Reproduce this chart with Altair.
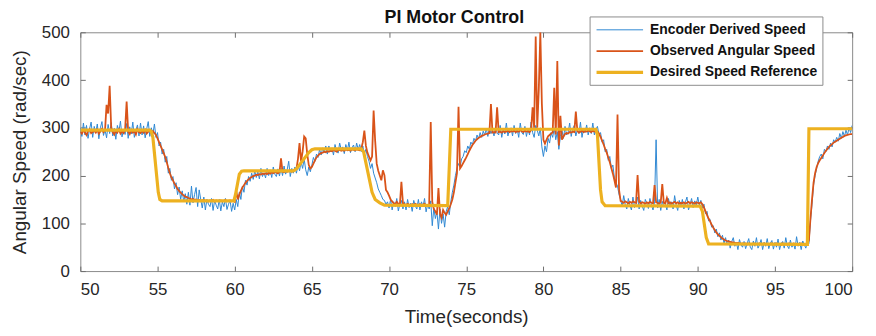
import altair as alt
import pandas as pd

SERIES = ["Encoder Derived Speed", "Observed Angular Speed", "Desired Speed Reference"]
COLORS = ["#2f88d2", "#d95319", "#edb120"]
WIDTHS = [1.0, 1.8, 3.2]

T0 = 50.0
DT = 0.1

# Encoder derived speed (rad/sec), sampled every 0.1 s from t = 50 s
encoder = [
    300, 282, 310, 285, 305, 278, 298, 312, 280, 303,  # 50
    290, 308, 277, 300, 313, 284, 296, 279, 307, 288,  # 51
    311, 283, 299, 276, 305, 292, 314, 281, 297, 286,  # 52
    309, 278, 302, 287, 312, 280, 295, 306, 283, 310,  # 53
    285, 304, 279, 298, 313, 282, 300, 287, 308, 280,  # 54
    290, 262, 270, 245, 255, 228, 240, 205, 215, 190,  # 55
    198, 172, 185, 160, 176, 150, 168, 145, 162, 140,  # 56
    165, 138, 178, 143, 160, 175, 135, 170, 150, 132,  # 57
    155, 128, 150, 140, 135, 152, 127, 148, 138, 130,  # 58
    150, 126, 145, 135, 152, 129, 140, 148, 125, 142,  # 59
    128, 150, 135, 165, 150, 178, 165, 190, 180, 198,  # 60
    188, 205, 192, 210, 196, 208, 193, 215, 198, 206,  # 61
    195, 215, 200, 212, 196, 218, 203, 198, 214, 199,  # 62
    215, 200, 220, 203, 212, 230, 198, 215, 205, 218,  # 63
    205, 222, 210, 228, 215, 235, 212, 200, 218, 208,  # 64
    222, 238, 230, 245, 238, 255, 243, 258, 248, 262,  # 65
    245, 262, 250, 258, 243, 265, 252, 247, 268, 255,  # 66
    260, 246, 265, 252, 270, 248, 258, 264, 250, 268,  # 67
    255, 265, 250, 262, 245, 255, 240, 230, 215, 225,  # 68
    205, 195, 185, 172, 165, 158, 150, 148, 140, 145,  # 69
    132, 150, 128, 145, 135, 152, 126, 140, 148, 130,  # 70
    145, 128, 150, 133, 142, 125, 148, 136, 130, 150,  # 71
    128, 145, 135, 152, 124, 140, 130, 147, 95, 132,  # 72
    110, 125, 88, 130, 100, 120, 92, 125, 135, 118,  # 73
    145, 165, 180, 200, 215, 225, 218, 235, 240, 252,  # 74
    248, 262, 255, 270, 265, 278, 272, 285, 277, 290,  # 75
    280, 293, 285, 298, 282, 300, 288, 295, 283, 302,  # 76
    290, 285, 305, 280, 298, 287, 310, 283, 296, 300,  # 77
    283, 305, 288, 297, 280, 310, 290, 286, 303, 282,  # 78
    298, 285, 312, 290, 280, 305, 295, 283, 300, 260,  # 79
    240, 262, 250, 278, 268, 290, 280, 300, 275, 292,  # 80
    255, 282, 295, 278, 303, 285, 290, 310, 282, 298,  # 81
    305, 283, 296, 288, 312, 280, 298, 290, 306, 285,  # 82
    300, 288, 310, 285, 297, 303, 285, 290, 270, 275,  # 83
    250, 255, 232, 240, 215, 222, 195, 185, 178, 160,  # 84
    150, 135, 158, 140, 130, 152, 138, 128, 155, 133,  # 85
    140, 155, 130, 148, 136, 127, 150, 142, 131, 152,  # 86
    138, 128, 145, 275, 132, 150, 127, 146, 135, 140,  # 87
    128, 152, 136, 145, 130, 158, 138, 127, 148, 135,  # 88
    150, 130, 145, 155, 128, 140, 152, 133, 147, 138,  # 89
    155, 138, 148, 132, 140, 120, 125, 105, 108, 92,  # 90
    95, 80, 88, 72, 80, 65, 75, 58, 70, 55,  # 91
    65, 48, 62, 70, 52, 60, 45, 66, 55, 50,  # 92
    62, 47, 58, 68, 50, 45, 63, 52, 70, 48,  # 93
    55, 66, 45, 60, 52, 68, 47, 58, 64, 46,  # 94
    60, 50, 67, 45, 58, 62, 48, 70, 53, 47,  # 95
    65, 50, 58, 46, 72, 52, 60, 45, 63, 55,  # 96
    48, 62, 58, 105, 140, 180, 200, 215, 230, 240,  # 97
    245, 235, 255, 250, 262, 255, 268, 260, 275, 270,  # 98
    280, 272, 288, 278, 292, 282, 295, 285, 300, 290,  # 99
    305,  # 100
]

# Observed angular speed (rad/sec), sampled every 0.1 s from t = 50 s
observed = [
    292, 288, 295, 290, 285, 293, 297, 289, 291, 294,  # 50
    290, 296, 288, 293, 298, 291, 295, 348, 330, 388,  # 51
    300, 291, 286, 294, 290, 297, 288, 293, 289, 296,  # 52
    355, 292, 287, 295, 290, 293, 286, 297, 291, 289,  # 53
    294, 290, 296, 288, 292, 295, 290, 293, 289, 285,  # 54
    278, 270, 262, 255, 247, 239, 228, 216, 205, 196,  # 55
    190, 183, 178, 172, 168, 164, 161, 158, 156, 155,  # 56
    153, 152, 150, 151, 149, 150, 148, 149, 147, 148,  # 57
    149, 147, 148, 146, 148, 147, 149, 146, 148, 147,  # 58
    147, 148, 146, 147, 149, 146, 147, 148, 146, 147,  # 59
    145, 168, 150, 160, 168, 175, 180, 185, 189, 192,  # 60
    195, 197, 199, 200, 202, 201, 203, 202, 204, 203,  # 61
    205, 203, 206, 204, 207, 205, 208, 206, 205, 207,  # 62
    236, 208, 207, 210, 208, 209, 211, 208, 210, 212,  # 63
    214, 235, 268, 230, 250, 282, 278, 245, 222, 215,  # 64
    218, 225, 232, 238, 242, 245, 247, 248, 250, 249,  # 65
    251, 250, 252, 251, 253, 252, 250, 253, 254, 252,  # 66
    253, 252, 255, 253, 254, 252, 255, 254, 253, 255,  # 67
    254, 253, 256, 270, 294, 262, 248, 240, 232, 240,  # 68
    336, 273, 225, 210, 200, 190, 211, 201, 170, 165,  # 69
    158, 150, 146, 142, 140, 145, 141, 139, 187, 142,  # 70
    140, 138, 141, 139, 137, 140, 138, 141, 139, 138,  # 71
    140, 137, 139, 141, 136, 138, 140, 312, 145, 130,  # 72
    125, 118, 174, 120, 112, 128, 122, 118, 125, 132,  # 73
    140, 150, 165, 185, 205, 344, 215, 220, 226, 232,  # 74
    238, 245, 252, 258, 264, 268, 273, 276, 279, 281,  # 75
    283, 284, 286, 287, 288, 289, 350, 290, 291, 290,  # 76
    343, 291, 292, 290, 293, 291, 292, 294, 291, 293,  # 77
    292, 294, 291, 293, 292, 295, 293, 291, 294, 292,  # 78
    293, 291, 295, 343, 300, 491, 300, 380, 500, 350,  # 79
    275, 267, 275, 282, 285, 288, 290, 384, 286, 440,  # 80
    263, 325, 275, 282, 287, 289, 288, 291, 290, 292,  # 81
    291, 334, 293, 290, 292, 294, 291, 293, 292, 294,  # 82
    293, 291, 294, 292, 293, 292, 288, 281, 273, 265,  # 83
    256, 248, 238, 228, 216, 204, 190, 175, 328, 170,  # 84
    147, 145, 143, 146, 144, 142, 145, 143, 146, 144,  # 85
    143, 201, 145, 142, 144, 143, 141, 144, 142, 145,  # 86
    143, 142, 180, 144, 143, 141, 144, 182, 143, 142,  # 87
    153, 142, 144, 141, 143, 145, 142, 144, 141, 143,  # 88
    142, 144, 141, 143, 145, 142, 144, 143, 141, 144,  # 89
    143, 142, 144, 140, 133, 125, 117, 110, 104, 97,  # 90
    91, 86, 81, 77, 74, 71, 68, 66, 64, 63,  # 91
    62, 61, 60, 60, 59, 58, 59, 58, 57, 58,  # 92
    57, 58, 56, 58, 57, 56, 58, 57, 56, 57,  # 93
    58, 56, 57, 58, 56, 57, 55, 57, 58, 56,  # 94
    57, 58, 56, 57, 55, 58, 56, 57, 56, 58,  # 95
    57, 56, 58, 57, 56, 55, 57, 58, 56, 57,  # 96
    56, 57, 65, 110, 150, 185, 205, 218, 226, 232,  # 97
    237, 242, 247, 252, 256, 260, 263, 266, 269, 271,  # 98
    273, 275, 277, 279, 281, 283, 284, 285, 286, 287,  # 99
    287,  # 100
]

# Desired speed reference: breakpoints (time, rad/sec)
ref_t = [50, 54.5, 54.6, 54.7, 55.05, 55.15, 55.3, 59.95, 60.05, 60.3, 60.45, 60.6,
         63.8, 64.0, 64.8, 65.0, 65.2, 68.2, 68.35, 68.9, 69.1, 69.4, 69.7, 73.8,
         74.0, 83.4, 83.5, 83.7, 83.8, 84.0, 90.15, 90.3, 90.55, 90.7, 97.1, 97.2, 100]
ref_v = [295, 295, 292, 280, 165, 150, 147, 147, 160, 203, 209, 210,
         210, 214, 248, 254, 256, 256, 250, 165, 150, 143, 138, 137,
         297, 297, 285, 170, 145, 137, 136, 125, 70, 57, 56, 298, 298]

X_TICKS = [50, 55, 60, 65, 70, 75, 80, 85, 90, 95, 100]
Y_TICKS = [0, 100, 200, 300, 400, 500]

rows = []
for i, v in enumerate(encoder):
    rows.append({"series": SERIES[0], "t": round(T0 + DT * i, 2), "v": v})
for i, v in enumerate(observed):
    rows.append({"series": SERIES[1], "t": round(T0 + DT * i, 2), "v": v})
for t, v in zip(ref_t, ref_v):
    rows.append({"series": SERIES[2], "t": t, "v": v})
df = pd.DataFrame(rows)

FONT = "Liberation Sans"
xs = alt.Scale(domain=[50, 100], nice=False, zero=False)
ys = alt.Scale(domain=[0, 500], nice=False)

legend = alt.Legend(
    title=None, orient="none", legendX=514, legendY=-16,
    fillColor="white", strokeColor="#8c8c8c", padding=5,
    symbolType="M-3,0L3,0", symbolSize=245, symbolOffset=16,
    labelFont=FONT, labelFontSize=14, labelLimit=400,
    labelFontWeight="bold", labelColor="#111111", rowPadding=5, labelOffset=21,
)
color = alt.Color("series:N", scale=alt.Scale(domain=SERIES, range=COLORS), legend=legend)
sw = alt.StrokeWidth("series:N", scale=alt.Scale(type="ordinal", domain=SERIES, range=WIDTHS), legend=legend)

x_bottom = alt.X("t:Q", scale=xs, axis=alt.Axis(orient="bottom", values=X_TICKS, title="Time(seconds)",
                                              labelPadding=11, titlePadding=10, titleFontSize=19))
y_left = alt.Y("v:Q", scale=ys, axis=alt.Axis(orient="left", values=Y_TICKS, title="Angular Speed (rad/sec)",
                                            labelPadding=11, titlePadding=12, titleFontSize=19))
x_top = alt.X("t:Q", scale=xs, axis=alt.Axis(orient="top", values=X_TICKS, labels=False, title=None))
y_right = alt.Y("v:Q", scale=ys, axis=alt.Axis(orient="right", values=Y_TICKS, labels=False, title=None))

base = alt.Chart(df)
enc_layer = base.transform_filter(alt.datum.series == SERIES[0]).mark_line(clip=True).encode(
    x=x_bottom, y=y_left, color=color, strokeWidth=sw)
obs_layer = base.transform_filter(alt.datum.series == SERIES[1]).mark_line(clip=True).encode(
    x=x_top, y=y_right, color=color, strokeWidth=sw)
ref_layer = base.transform_filter(alt.datum.series == SERIES[2]).mark_line(clip=True).encode(
    x=alt.X("t:Q", scale=xs, axis=None), y=alt.Y("v:Q", scale=ys, axis=None), color=color, strokeWidth=sw)

chart = alt.layer(enc_layer, obs_layer, ref_layer).resolve_axis(
    x="independent", y="independent"
).properties(
    width=779, height=241,
    autosize=alt.AutoSizeParams(type="none"),
    padding={"left": 73, "top": 23, "right": 16, "bottom": 64},
    title=alt.TitleParams("PI Motor Control", font=FONT, fontSize=18, fontWeight="bold",
                          color="#111111", anchor="middle", dx=-12, offset=-25,
                          baseline="alphabetic"),
).configure_view(
    stroke="#8a8a8a", strokeWidth=1
).configure_axis(
    labelFont=FONT, titleFont=FONT, labelFontSize=17, labelColor="#262626", titleColor="#262626",
    titleFontWeight="normal", tickColor="#6e6e6e", grid=False, domain=False, tickSize=5, offset=-5,
)

chart.save("out.html", embed_options={"renderer": "svg", "actions": False})
